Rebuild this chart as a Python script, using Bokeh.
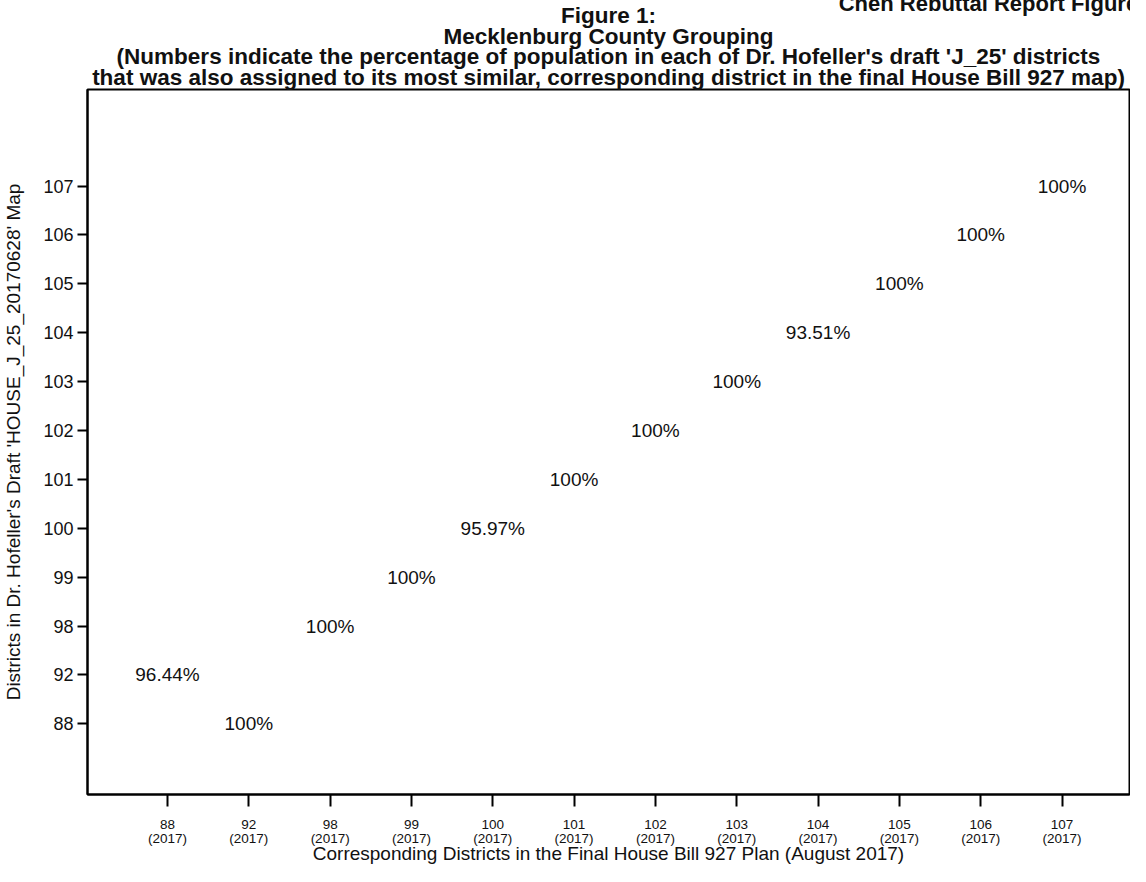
from bokeh.plotting import figure
from bokeh.models import ColumnDataSource, Range1d, FixedTicker, Title
from bokeh.core.properties import value
from bokeh.embed import file_html
from bokeh.resources import INLINE

# ---- data ----
final_districts = ["88", "92", "98", "99", "100", "101", "102", "103", "104", "105", "106", "107"]
draft_districts = ["88", "92", "98", "99", "100", "101", "102", "103", "104", "105", "106", "107"]
x_year = "2017"
# point pairs: (final district, draft district, percentage)
pair_final = ["88", "92", "98", "99", "100", "101", "102", "103", "104", "105", "106", "107"]
pair_draft = ["92", "88", "98", "99", "100", "101", "102", "103", "104", "105", "106", "107"]
pct = [96.44, 100, 100, 100, 95.97, 100, 100, 100, 93.51, 100, 100, 100]

title_lines = [
    "Figure 1:",
    "Mecklenburg County Grouping",
    "(Numbers indicate the percentage of population in each of Dr. Hofeller's draft 'J_25' districts",
    "that was also assigned to its most similar, corresponding district in the final House Bill 927 map)",
]
header_text = "Chen Rebuttal Report Figure 1"
x_label = "Corresponding Districts in the Final House Bill 927 Plan (August 2017)"
y_label = "Districts in Dr. Hofeller's Draft 'HOUSE_J_25_20170628' Map"

FONT = "Liberation Sans"

xs = [final_districts.index(c) for c in pair_final]
ys = [draft_districts.index(c) for c in pair_draft]
labels = [f"{v:g}%" for v in pct]
src = ColumnDataSource(dict(x=xs, y=ys, label=labels))

p = figure(width=1130, height=866, output_backend="svg", toolbar_location=None,
           title=None, x_range=Range1d(-0.984, 11.83), y_range=Range1d(-1.446, 12.976),
           min_border_left=87, min_border_right=1, min_border_bottom=70, min_border_top=0)

p.text(x="x", y="y", text="label", source=src, text_align="center", text_baseline="middle",
       text_font=value(FONT), text_font_size="19px", text_color="#111111")

# title lines, one centered Title per line (added nearest-first); standoffs pack them at ~20px
standoffs = [0, -13, 0, -13]
for line, so in zip(reversed(title_lines), standoffs):
    p.add_layout(Title(text=line, align="center", text_font=FONT, text_font_size="22.5px",
                       text_font_style="bold", text_color="#111111",
                       text_line_height=0.8, standoff=so), "above")

# header cut off at the top right edge
p.add_layout(Title(text=header_text, align="right", vertical_align="top", offset=-27, text_font=FONT,
                   text_font_size="22px", text_font_style="bold", text_color="#111111",
                   text_line_height=0.8, standoff=-20), "above")

p.xaxis.ticker = FixedTicker(ticks=list(range(len(final_districts))))
p.xaxis.major_label_overrides = {i: f"{c}\n({x_year})" for i, c in enumerate(final_districts)}
p.yaxis.ticker = FixedTicker(ticks=list(range(len(draft_districts))))
p.yaxis.major_label_overrides = {i: c for i, c in enumerate(draft_districts)}

p.xaxis.axis_label = x_label
p.yaxis.axis_label = y_label
for ax in (p.xaxis, p.yaxis):
    ax.axis_line_color = "black"
    ax.axis_line_width = 2
    ax.major_tick_line_color = "black"
    ax.major_tick_line_width = 2
    ax.major_tick_in = 0
    ax.minor_tick_line_color = None
    ax.axis_label_text_font = FONT
    ax.axis_label_text_font_style = "normal"
    ax.axis_label_text_font_size = "19px"
    ax.axis_label_text_color = "#111111"
    ax.major_label_text_font = FONT
    ax.major_label_text_color = "#111111"

p.xaxis.major_tick_out = 12
p.xaxis.major_label_text_font_size = "13.5px"
p.xaxis.major_label_text_line_height = 0.95
p.xaxis.major_label_standoff = 10
p.xaxis.axis_label_standoff = -6
p.yaxis.major_tick_out = 10
p.yaxis.major_label_text_font_size = "18px"
p.yaxis.major_label_standoff = 4
p.yaxis.axis_label_standoff = 16

p.xgrid.grid_line_color = None
p.ygrid.grid_line_color = None
p.outline_line_color = "black"
p.outline_line_width = 2
p.outline_line_alpha = 1
p.background_fill_color = "white"
p.border_fill_color = "white"

open("out.html", "w").write(file_html(p, INLINE))
